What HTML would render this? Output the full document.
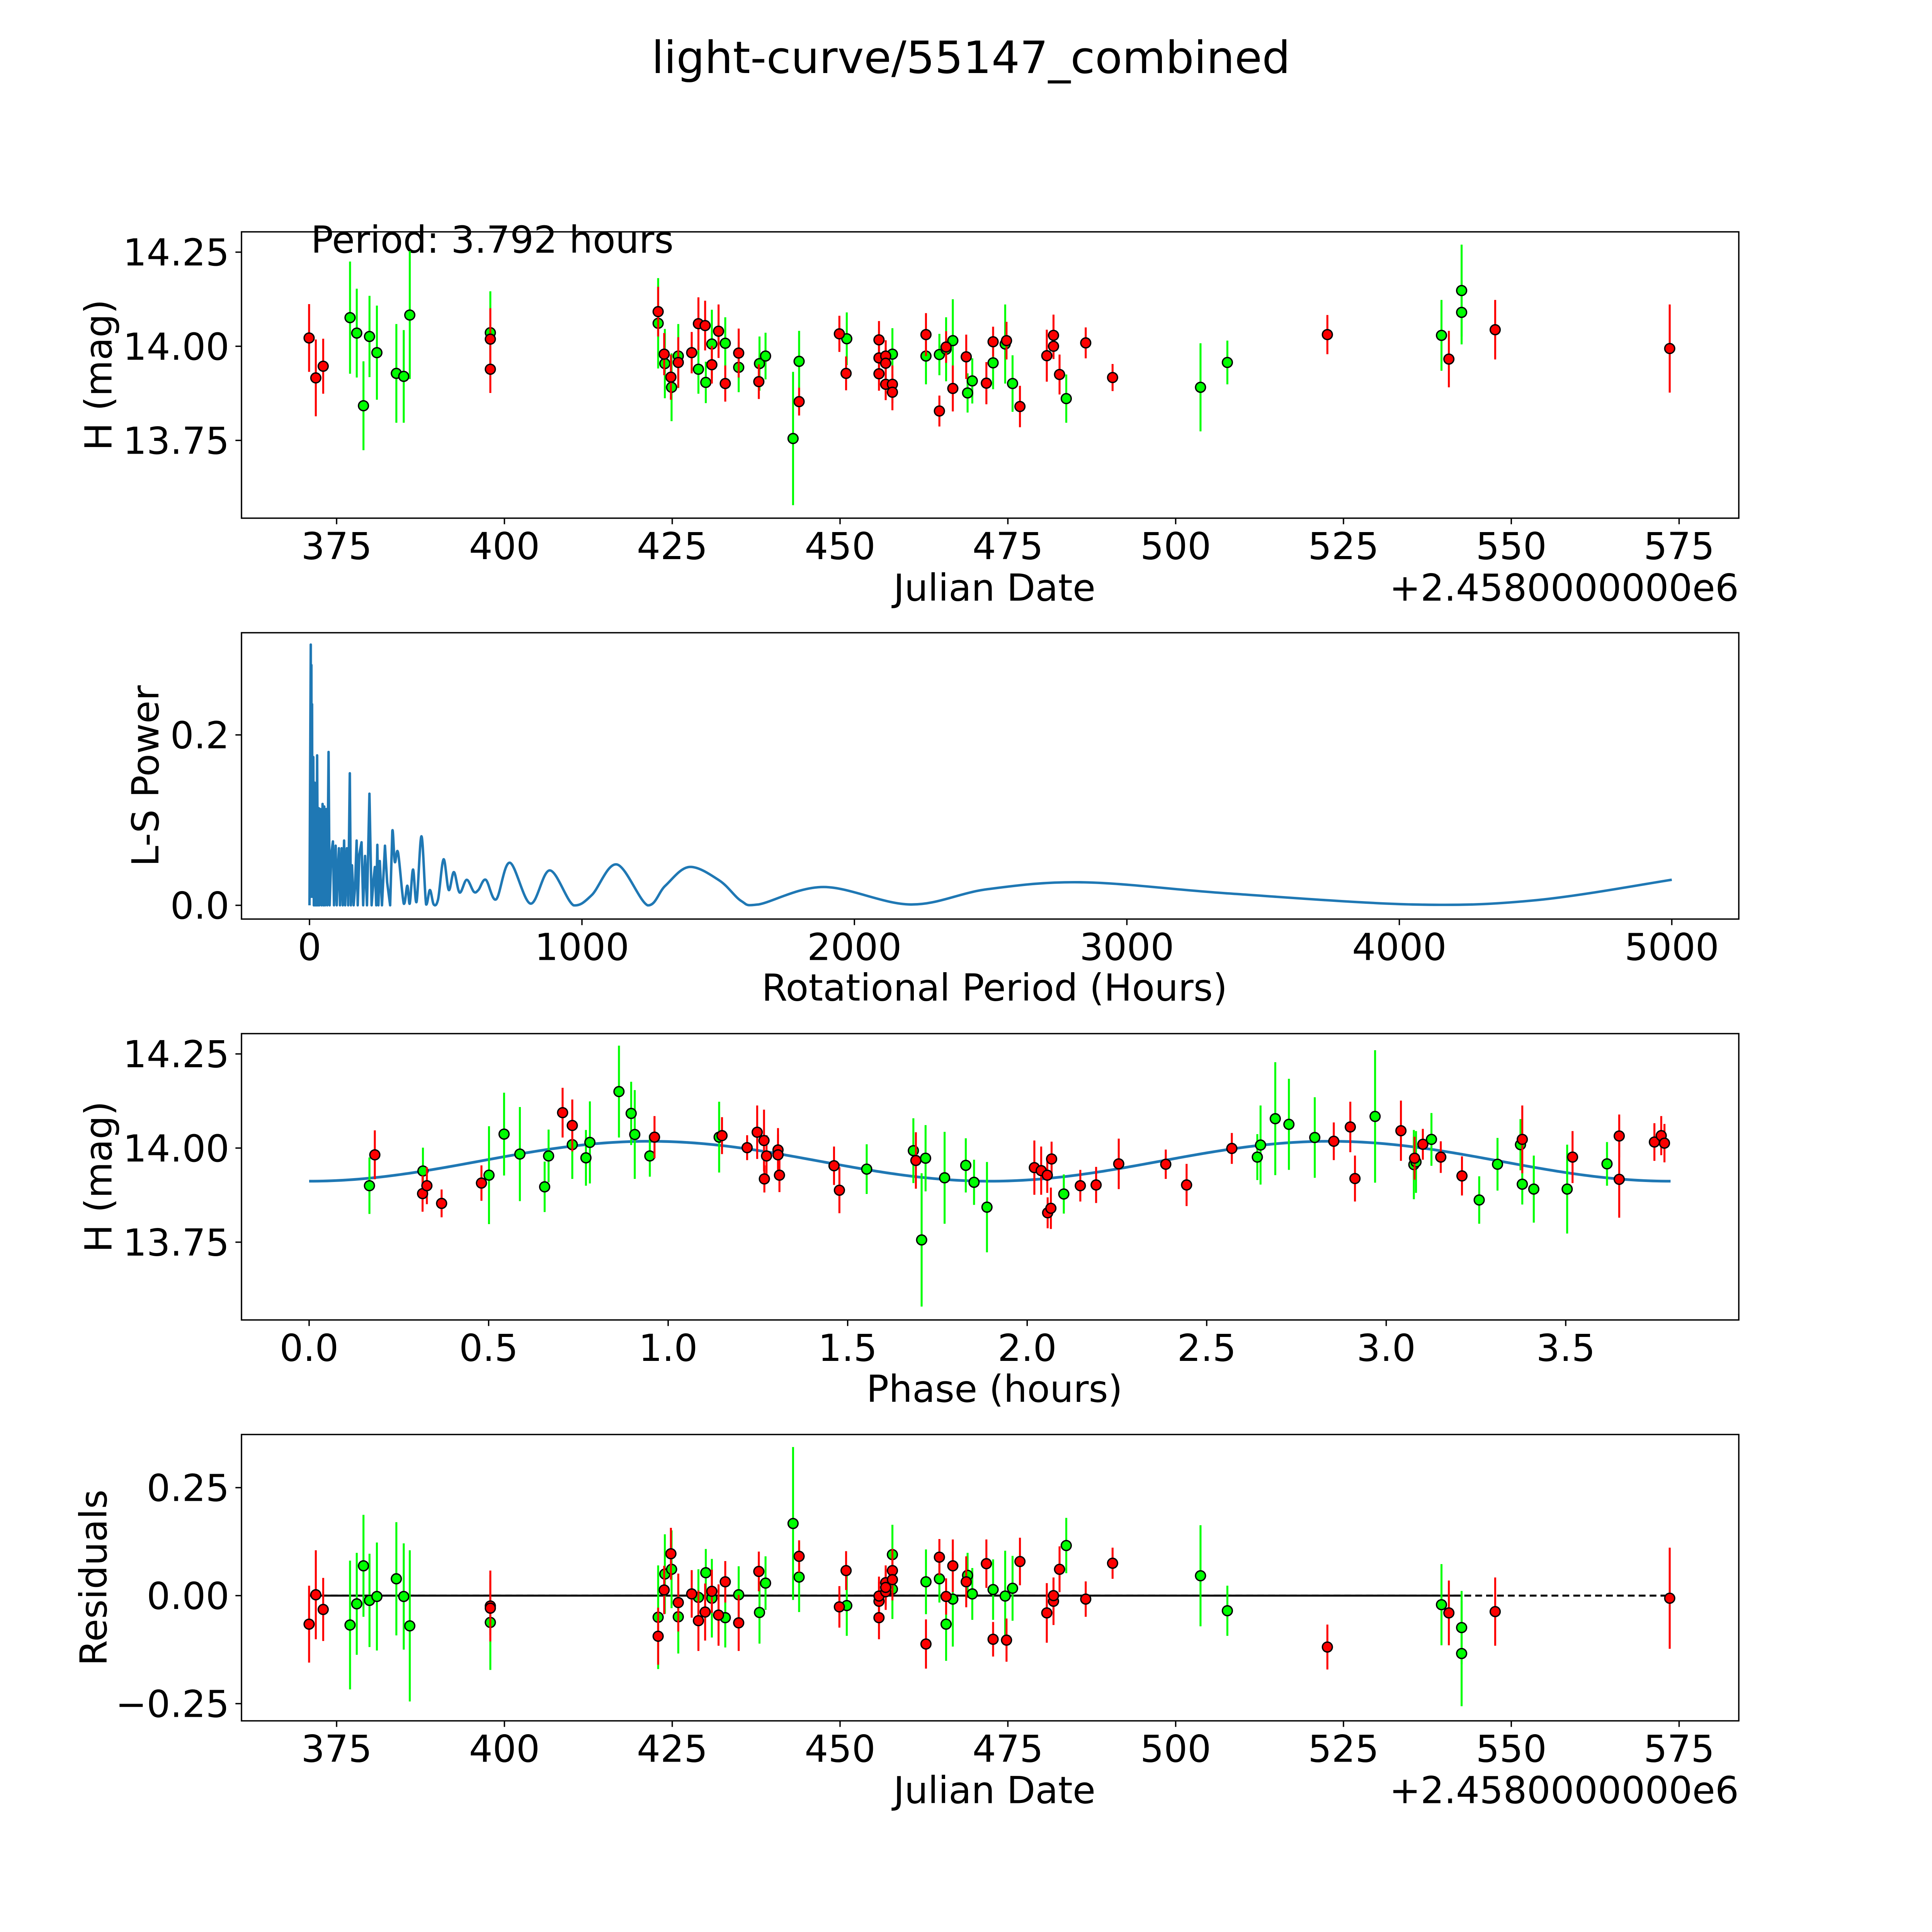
<!DOCTYPE html>
<html><head><meta charset="utf-8"><style>
html,body{margin:0;padding:0;background:#fff;overflow:hidden;width:100vw;height:100vh;}
svg{display:block;width:100vw;height:100vh;}
text{font-family:"DejaVu Sans","Liberation Sans",sans-serif;fill:#000;}
</style></head><body>
<svg id="fig" xmlns="http://www.w3.org/2000/svg" viewBox="0 0 1560 1560" preserveAspectRatio="none">
<rect x="0" y="0" width="1560" height="1560" fill="#fff"/>
<text x="784" y="59" font-size="36" text-anchor="middle">light-curve/55147_combined</text>
</svg>
<script>
// ---- Panel 1: light curve ----
const lcGreenDays=[377.0,378.0,379.0,379.9,381.0,383.9,385.0,385.9,397.9,422.9,423.9,424.9,425.9,428.9,430.0,430.9,432.9,434.9,438.0,438.9,443.0,443.9,451.0,457.8,462.8,464.8,465.8,466.8,469.0,469.7,472.8,474.6,475.7,483.7,503.7,507.7,539.6,542.6,542.6];
const lcGreenMags=[14.076,14.035,13.842,14.026,13.983,13.928,13.920,14.083,14.036,14.061,13.954,13.891,13.974,13.939,13.904,14.006,14.008,13.944,13.954,13.974,13.755,13.960,14.020,13.979,13.974,13.978,13.992,14.015,13.876,13.908,13.956,14.006,13.901,13.861,13.891,13.957,14.029,14.148,14.090];
const lcGreenErrs=[0.149,0.118,0.118,0.108,0.125,0.131,0.123,0.17,0.11,0.12,0.092,0.09,0.085,0.065,0.055,0.091,0.069,0.066,0.072,0.062,0.177,0.081,0.07,0.069,0.075,0.055,0.085,0.11,0.052,0.06,0.07,0.105,0.075,0.064,0.117,0.058,0.094,0.122,0.085];
const lcRedDays=[370.9,371.9,373.0,397.9,397.9,422.9,423.8,424.8,425.9,427.9,428.9,429.9,430.9,431.9,432.9,434.9,437.9,443.9,449.9,450.9,455.8,455.8,455.8,456.8,456.8,456.8,457.8,457.8,462.8,464.8,465.8,466.8,468.8,471.8,472.8,474.8,476.8,480.8,481.8,481.8,482.7,486.6,490.6,522.6,540.7,547.6,573.6];
const lcRedMags=[14.022,13.916,13.947,14.019,13.939,14.092,13.979,13.918,13.957,13.983,14.060,14.055,13.951,14.040,13.901,13.982,13.906,13.853,14.033,13.928,14.017,13.969,13.927,13.974,13.955,13.899,13.899,13.878,14.031,13.828,13.998,13.888,13.972,13.902,14.012,14.015,13.840,13.975,14.029,14.000,13.925,14.009,13.917,14.031,13.966,14.044,13.994];
const lcRedErrs=[0.09,0.102,0.073,0.082,0.063,0.066,0.056,0.06,0.067,0.055,0.07,0.066,0.05,0.071,0.048,0.065,0.046,0.037,0.048,0.045,0.05,0.045,0.045,0.042,0.04,0.042,0.05,0.048,0.057,0.041,0.042,0.061,0.059,0.056,0.04,0.05,0.055,0.069,0.055,0.034,0.053,0.041,0.036,0.052,0.075,0.079,0.117];
const dayTicks=[375,400,425,450,475,500,525,550,575];
const magTicks=[13.75,14.00,14.25];
// ---- Panel 2: periodogram ----
const lsPeriods=[0,4.7,5.5,7,8,9.4,11,14,16,18.8,21,24,26,28,31,34,36,40,44,48,51,54,57,61,65,70,74,80,86,90,96,100,104,108,112,118,122,127,131,137,142,148,152,156,162,167,173,177,183,191,197,204,211,220,228,235,240,245,249,253,258,266,277,285,296,304,313,325,346,359,368,380,393,411,428,442,456,472,492,511,530,551,577,603,620,647,685,735,811,882,969,1036,1128,1241,1306,1394,1505,1585,1648,1887,2206,2490,2842,3370,4049,4502,5000];
const lsPowers=[0,0.306,0.01,0.282,0.02,0.236,0.01,0.174,0,0.144,0,0.12,0,0.176,0,0.114,0,0.113,0,0.119,0,0.116,0,0.113,0,0.180,0,0.06,0.075,0,0.070,0,0.04,0.067,0,0.067,0,0.076,0,0.067,0,0.155,0,0.047,0,0.02,0.076,0,0.06,0.074,0,0.058,0,0.131,0,0.03,0.045,0,0.071,0,0.052,0,0.070,0.027,0,0.087,0.051,0.062,0.002,0.023,0.002,0.042,0.004,0.081,0.001,0.018,0.001,0.007,0.054,0.018,0.039,0.015,0.030,0.016,0.018,0.030,0.007,0.050,0.002,0.041,0,0.012,0.048,0,0.023,0.045,0.029,0.005,0.001,0.0215,0.001,0.019,0.027,0.014,0.001,0.006,0.030];
const periodTicks=[0,1000,2000,3000,4000,5000];
const powerTicks=[0.0,0.2];
// ---- Panel 3: phase-folded ----
const phGreenX=[0.168,0.317,0.501,0.543,0.587,0.656,0.667,0.733,0.771,0.782,0.863,0.897,0.907,0.949,1.142,1.553,1.683,1.706,1.717,1.770,1.829,1.852,1.888,2.102,2.641,2.650,2.691,2.729,2.801,2.969,3.077,3.083,3.126,3.259,3.310,3.374,3.379,3.411,3.504,3.615];
const phGreenY=[13.900,13.939,13.928,14.037,13.984,13.897,13.979,14.009,13.974,14.015,14.150,14.092,14.036,13.979,14.029,13.944,13.993,13.756,13.973,13.921,13.954,13.909,13.843,13.878,13.976,14.008,14.078,14.063,14.028,14.084,13.956,13.963,14.023,13.862,13.957,14.009,13.904,13.891,13.891,13.958];
const phGreenErr=[0.075,0.062,0.13,0.11,0.125,0.067,0.07,0.091,0.074,0.109,0.122,0.084,0.118,0.055,0.094,0.066,0.086,0.177,0.088,0.122,0.072,0.06,0.12,0.052,0.061,0.105,0.15,0.121,0.107,0.176,0.092,0.082,0.07,0.063,0.07,0.068,0.054,0.089,0.118,0.058];
const phRedX=[0.183,0.316,0.328,0.369,0.480,0.706,0.733,0.962,1.150,1.220,1.248,1.267,1.268,1.274,1.306,1.306,1.310,1.462,1.477,1.690,2.020,2.039,2.056,2.068,2.057,2.066,2.148,2.192,2.255,2.386,2.444,2.570,2.854,2.900,2.913,3.041,3.079,3.102,3.152,3.211,3.379,3.519,3.649,3.649,3.747,3.766,3.775];
const phRedY=[13.982,13.879,13.900,13.853,13.907,14.094,14.060,14.029,14.033,14.001,14.042,14.020,13.918,13.979,13.995,13.982,13.928,13.953,13.888,13.967,13.948,13.940,13.928,13.971,13.828,13.840,13.900,13.902,13.958,13.957,13.902,13.999,14.018,14.056,13.919,14.046,13.973,14.010,13.976,13.926,14.023,13.976,14.032,13.917,14.016,14.033,14.013];
const phRedErr=[0.065,0.048,0.049,0.037,0.047,0.066,0.069,0.056,0.049,0.033,0.071,0.082,0.036,0.055,0.058,0.054,0.045,0.051,0.061,0.075,0.072,0.064,0.047,0.046,0.041,0.055,0.042,0.048,0.067,0.039,0.056,0.041,0.05,0.067,0.061,0.08,0.057,0.041,0.042,0.052,0.09,0.069,0.057,0.102,0.05,0.052,0.051];
const modelMean=[13.965];
const modelAmp=[0.053];
const modelPeriod=[3.792];
const phaseTicks=[0.0,0.5,1.0,1.5,2.0,2.5,3.0,3.5];
// ---- Panel 4: residuals ----
const resGreenDays=[377.0,378.0,379.0,379.9,381.0,383.9,385.0,385.9,397.9,422.9,423.9,424.9,425.9,428.9,430.0,430.9,432.9,434.9,438.0,438.9,443.0,443.9,451.0,457.8,457.8,462.8,464.8,465.8,466.8,469.0,469.7,472.8,474.6,475.7,483.7,503.7,507.7,539.6,542.6,542.6];
const resGreenVals=[-0.068,-0.019,0.069,-0.011,-0.002,0.039,-0.002,-0.070,-0.062,-0.050,0.050,0.061,-0.049,-0.004,0.053,-0.006,-0.051,0.002,-0.039,0.029,0.167,0.043,-0.023,0.095,0.015,0.032,0.039,-0.066,-0.008,0.047,0.004,0.014,-0.001,0.017,0.116,0.046,-0.035,-0.021,-0.074,-0.134];
const resGreenErrs=[0.149,0.118,0.118,0.108,0.125,0.131,0.123,0.175,0.11,0.12,0.092,0.09,0.085,0.065,0.055,0.091,0.069,0.066,0.072,0.062,0.177,0.081,0.07,0.069,0.069,0.075,0.055,0.085,0.11,0.052,0.06,0.07,0.105,0.075,0.064,0.117,0.058,0.094,0.085,0.122];
const resRedDays=[370.9,371.9,373.0,397.9,397.9,422.9,423.8,424.8,425.9,427.9,428.9,429.9,430.9,431.9,432.9,434.9,437.9,443.9,449.9,450.9,455.8,455.8,455.8,456.8,456.8,456.8,457.8,457.8,462.8,464.8,465.8,466.8,468.8,471.8,472.8,474.8,476.8,480.8,481.8,481.8,482.7,486.6,490.6,522.6,540.7,547.6,573.6];
const resRedVals=[-0.066,0.002,-0.032,-0.024,-0.029,-0.094,0.013,0.097,-0.016,0.004,-0.058,-0.038,0.010,-0.045,0.032,-0.063,0.056,0.091,-0.026,0.058,-0.051,-0.013,-0.001,0.009,0.030,0.019,0.058,0.037,-0.112,0.089,-0.002,0.069,0.032,0.074,-0.101,-0.103,0.079,-0.040,-0.013,0.000,0.061,-0.008,0.075,-0.119,-0.040,-0.037,-0.006];
const resRedErrs=[0.089,0.103,0.073,0.082,0.063,0.066,0.056,0.06,0.067,0.055,0.07,0.066,0.05,0.071,0.048,0.065,0.046,0.037,0.048,0.045,0.05,0.045,0.045,0.042,0.04,0.042,0.05,0.048,0.057,0.042,0.042,0.061,0.059,0.056,0.04,0.05,0.055,0.069,0.055,0.034,0.053,0.041,0.036,0.052,0.075,0.079,0.117];
const resTicks=[-0.25,0.00,0.25];
const solidEndDay=[542.6];

const NS='http://www.w3.org/2000/svg';
const svg=document.getElementById('fig');
function mk(tag,attrs,parent){const e=document.createElementNS(NS,tag);for(const k in attrs)e.setAttribute(k,attrs[k]);(parent||svg).appendChild(e);return e;}
const L=195,R=1404,H=231.2;
const tops=[187.2,510.9,834.6,1158.3];
const fmt2=v=>{const s=Math.abs(v).toFixed(2);return (v<0?'\u2212':'')+s;};

const xDay=d=>271.8+(d-375)*(135.5/25);
const yMag=top=>m=>top+92.4-(m-14)*304;
const xPer=p=>249.9+p*0.220;
const yPow=p=>731.0-p*688;
const xPh=p=>249.6+p*289.9;
const yRes=r=>1288.4-r*348.8;

function frame(i,name){
  const g=mk('g',{});
  
  
  const r=mk('rect',{x:L,y:tops[i],width:R-L,height:H,fill:'none',stroke:'#000','stroke-width':1.1},g);
  
  
  return g;
}
function xTicks(g,i,vals,fx,labelFn,name){
  const b=tops[i]+H;
  vals.forEach(v=>{
    const x=fx(v);
    const t=mk('line',{x1:x,x2:x,y1:b,y2:b+4.9,stroke:'#000','stroke-width':1.1},g);
    
    
    const tx=mk('text',{x:x,y:b+33,'font-size':30,'text-anchor':'middle'},g);
    
    
    tx.textContent=labelFn(v);
  });
}
function yTicks(g,vals,fy,labelFn,name){
  vals.forEach(v=>{
    const y=fy(v);
    const t=mk('line',{x1:L-4.9,x2:L,y1:y,y2:y,stroke:'#000','stroke-width':1.1},g);
    
    
    const tx=mk('text',{x:L-9.8,y:y+10.8,'font-size':30,'text-anchor':'end'},g);
    
    
    tx.textContent=labelFn(v);
  });
}
function label(g,txt,x,y,rot,name,anchor){
  const t=mk('text',{x:x,y:y,'font-size':30,'text-anchor':anchor||'middle'},g);
  if(rot)t.setAttribute('transform','rotate(-90 '+x+' '+y+')');
  
  
  t.textContent=txt;
}
function errSeries(g,xs,ys,es,fx,fy,color,name){
  const n=Math.min(xs.length,ys.length,es.length);
  for(let k=0;k<n;k++){
    const x=fx(xs[k]);
    const l=mk('line',{x1:x,x2:x,y1:fy(ys[k]-es[k]),y2:fy(ys[k]+es[k]),stroke:color,'stroke-width':1.6},g);
    
    
  }
  for(let k=0;k<n;k++){
    const c=mk('circle',{cx:fx(xs[k]),cy:fy(ys[k]),r:4.0,fill:color,stroke:'#000','stroke-width':1.1},g);
    
    
  }
}
function clip(i,id){
  const cp=mk('clipPath',{id:id});
  mk('rect',{x:L,y:tops[i],width:R-L,height:H},cp);
  const g=mk('g',{'clip-path':'url(#'+id+')'});
  return g;
}

{
  const g=frame(0,'light-curve-panel');
  const fy=yMag(tops[0]);
  const c=clip(0,'c0');
  
  
  errSeries(c,lcGreenDays,lcGreenMags,lcGreenErrs,xDay,fy,'#00ff00','green-band');
  errSeries(c,lcRedDays,lcRedMags,lcRedErrs,xDay,fy,'#ff0000','red-band');
  xTicks(g,0,dayTicks,xDay,v=>String(v),'x-axis-julian');
  yTicks(g,magTicks,fy,fmt2,'y-axis-mag');
  label(g,'Julian Date',803,485,false,'x-axis-title');
  label(g,'+2.4580000000e6',R,485,false,'x-axis-offset','end');
  label(g,'H (mag)',90,tops[0]+H/2,true,'y-axis-title');
  label(g,'Period: 3.792 hours',251,204,false,'period-annotation','start');
}
{
  const g=frame(1,'periodogram-panel');
  const c=clip(1,'c1');
  
  
  const pts=lsPeriods.map((p,k)=>[xPer(p),yPow(lsPowers[k])]);
  let d='M'+pts[0][0].toFixed(2)+' '+pts[0][1].toFixed(2);
  for(let k=1;k<pts.length;k++){
    if(lsPeriods[k]<=304){d+=' L'+pts[k][0].toFixed(2)+' '+pts[k][1].toFixed(2);}
    else{
      const p0=pts[k-2]||pts[k-1],p1=pts[k-1],p2=pts[k],p3=pts[k+1]||pts[k];
      const c1x=p1[0]+(p2[0]-p0[0])/6,c1y=p1[1]+(p2[1]-p0[1])/6;
      const c2x=p2[0]-(p3[0]-p1[0])/6,c2y=p2[1]-(p3[1]-p1[1])/6;
      d+=' C'+c1x.toFixed(2)+' '+Math.min(c1y,731.6).toFixed(2)+' '+c2x.toFixed(2)+' '+Math.min(c2y,731.6).toFixed(2)+' '+p2[0].toFixed(2)+' '+p2[1].toFixed(2);
    }
  }
  const path=mk('path',{d:d,fill:'none',stroke:'#1f77b4','stroke-width':2,'stroke-linejoin':'round'},c);
  
  
  xTicks(g,1,periodTicks,xPer,v=>String(v),'x-axis-period');
  yTicks(g,powerTicks,yPow,v=>v.toFixed(1),'y-axis-power');
  label(g,'Rotational Period (Hours)',803,808,false,'x-axis-title');
  label(g,'L-S Power',128,tops[1]+H/2,true,'y-axis-title');
}
{
  const g=frame(2,'phase-panel');
  const fy=yMag(tops[2]);
  const c=clip(2,'c2');
  
  
  let d='';
  const P=modelPeriod[0];
  for(let k=0;k<=300;k++){
    const ph=P*k/300;
    const m=modelMean[0]-modelAmp[0]*Math.cos(2*Math.PI*2*ph/P);
    d+=(k?' L':'M')+xPh(ph).toFixed(2)+' '+fy(m).toFixed(2);
  }
  const path=mk('path',{d:d,fill:'none',stroke:'#1f77b4','stroke-width':2.2},c);
  
  
  errSeries(c,phGreenX,phGreenY,phGreenErr,xPh,fy,'#00ff00','phase-green');
  errSeries(c,phRedX,phRedY,phRedErr,xPh,fy,'#ff0000','phase-red');
  xTicks(g,2,phaseTicks,xPh,v=>v.toFixed(1),'x-axis-phase');
  yTicks(g,magTicks,fy,fmt2,'y-axis-mag');
  label(g,'Phase (hours)',803,1132,false,'x-axis-title');
  label(g,'H (mag)',90,tops[2]+H/2,true,'y-axis-title');
}
{
  const g=frame(3,'residuals-panel');
  const c=clip(3,'c3');
  
  
  const allDays=resGreenDays.concat(resRedDays);
  const d0=Math.min(...allDays),d1=Math.max(...allDays);
  const dl=mk('line',{x1:xDay(d0),x2:xDay(d1),y1:yRes(0),y2:yRes(0),stroke:'#000','stroke-width':1.6,'stroke-dasharray':'5.5 3.3'},c);
  
  
  const sl=mk('line',{x1:xDay(d0),x2:xDay(solidEndDay[0]),y1:yRes(0),y2:yRes(0),stroke:'#000','stroke-width':1.6},c);
  
  
  errSeries(c,resGreenDays,resGreenVals,resGreenErrs,xDay,yRes,'#00ff00','residual-green');
  errSeries(c,resRedDays,resRedVals,resRedErrs,xDay,yRes,'#ff0000','residual-red');
  xTicks(g,3,dayTicks,xDay,v=>String(v),'x-axis-julian');
  yTicks(g,resTicks,yRes,fmt2,'y-axis-residual');
  label(g,'Julian Date',803,1456,false,'x-axis-title');
  label(g,'+2.4580000000e6',R,1456,false,'x-axis-offset','end');
  label(g,'Residuals',86,tops[3]+H/2,true,'y-axis-title');
}
</script>
</body></html>
